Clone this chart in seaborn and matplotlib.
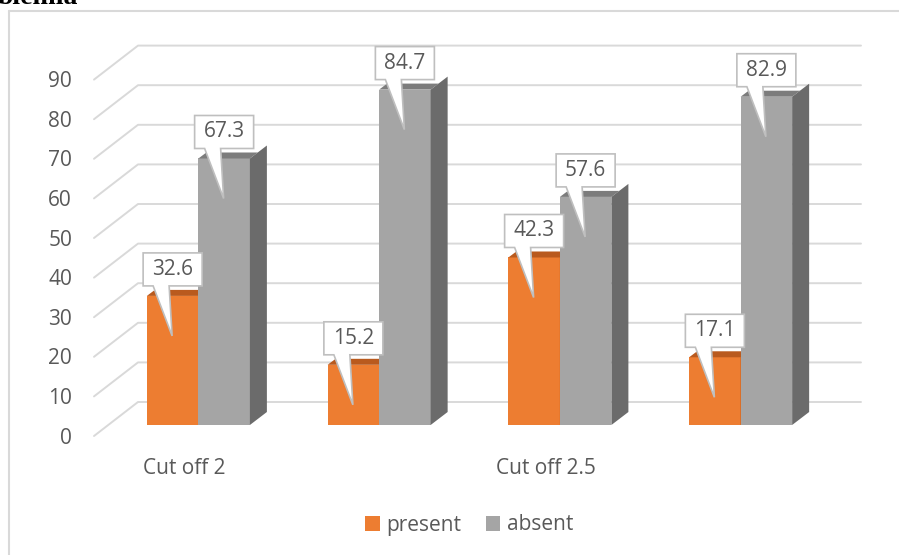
import matplotlib
import matplotlib.pyplot as plt
import pandas as pd
import seaborn as sns
from matplotlib.lines import Line2D
from matplotlib.patches import Patch, Polygon

matplotlib.use("Agg")

# ── Data ──────────────────────────────────────────────────────────────────────
groups = ["G1", "G2", "G3", "G4"]
tick_labels = ["Cut off 2", "", "Cut off 2.5", ""]
series = ["present", "absent"]
present = [32.6, 15.2, 42.3, 17.1]
absent = [67.3, 84.7, 57.6, 82.9]
y_ticks = [0, 10, 20, 30, 40, 50, 60, 70, 80, 90]

# ── Style ─────────────────────────────────────────────────────────────────────
FRONT = {"present": "#ED7D31", "absent": "#A5A5A5"}
TOP = {"present": "#B95A1E", "absent": "#7C7C7C"}
SIDE = {"present": "#B95A1E", "absent": "#6B6B6B"}
GRID = "#D9D9D9"
TEXT = "#595959"
FS = 15

sns.set_theme(style="white")
plt.rcParams["font.family"] = ["Open Sans", "DejaVu Sans"]

W, H = 899, 555
fig = plt.figure(figsize=(W / 100, H / 100), dpi=100)
# bar plane: x from px 108 to 831, value 0 at px 425 (from top), ~3.96 px per unit
ax = fig.add_axes([108 / W, 130 / H, 723 / W, 396 / H])

df = pd.DataFrame({
    "group": groups * 2,
    "value": present + absent,
    "status": ["present"] * 4 + ["absent"] * 4,
})
sns.barplot(data=df, x="group", y="value", hue="status", order=groups,
            hue_order=series, palette=FRONT, width=0.57, errorbar=None,
            saturation=1, legend=False, linewidth=0, ax=ax)

ax.set_xlim(-0.5, 3.5)
ax.set_ylim(0, 100)
ax.axis("off")

px_x = 723 / 4.0
px_y = 396 / 100.0


def ddx(p):
    return p / px_x


def ddy(p):
    return p / px_y


# floor / wall geometry (pixel shifts from bar plane)
front_dx, front_dy = -14, -11
back_dx, back_dy = 30, 23
bar_dx, bar_dy = 17, 13
lid_dx, lid_dy = 8, 6

# gridlines: front edge -> back wall -> across
for v in y_ticks:
    xs = [-0.5 + ddx(front_dx), -0.5 + ddx(back_dx), 3.5 + ddx(back_dx)]
    ys = [v + ddy(front_dy), v + ddy(back_dy), v + ddy(back_dy)]
    ax.plot(xs, ys, color=GRID, lw=1.4, zorder=0, clip_on=False)
    ax.text(-0.5 + ddx(front_dx - 22), v + ddy(front_dy - 2), str(v),
            ha="right", va="center", fontsize=FS, color=TEXT, clip_on=False)

# 3D faces for each bar
for i, name in enumerate(series):
    z = 2 + 2 * i
    for bar in ax.containers[i]:
        bar.set_zorder(z)
        x0 = bar.get_x()
        x1 = x0 + bar.get_width()
        h = bar.get_height()
        side = Polygon([(x1, 0), (x1 + ddx(bar_dx), ddy(bar_dy)),
                        (x1 + ddx(bar_dx), h + ddy(bar_dy)), (x1, h)],
                       closed=True, facecolor=SIDE[name], edgecolor="none", zorder=z)
        top = Polygon([(x0, h), (x1, h), (x1 + ddx(lid_dx), h + ddy(lid_dy)),
                       (x0 + ddx(lid_dx), h + ddy(lid_dy))],
                      closed=True, facecolor=TOP[name], edgecolor="none", zorder=z)
        ax.add_patch(side)
        ax.add_patch(top)

        # callout label
        cx = x0 + bar.get_width() / 2
        outline = [(-29.5, 10), (-19.5, 10), (-0.5, -40), (-3.5, 10), (29.5, 10),
                   (29.5, 43), (-29.5, 43)]
        pts = [(cx + ddx(a), h + ddy(b)) for a, b in outline]
        ax.add_patch(Polygon(pts, closed=True, facecolor="white", edgecolor="#BFBFBF",
                             lw=1.2, zorder=10, clip_on=False))
        ax.text(cx, h + ddy(26.5), f"{h:.1f}", ha="center", va="center",
                fontsize=FS, color=TEXT, zorder=11, clip_on=False)

# category labels on the front edge
for i, lab in enumerate(tick_labels):
    if lab:
        ax.text(i + ddx(front_dx), ddy(-43), lab, ha="center", va="center",
                fontsize=FS, color=TEXT, clip_on=False)

# legend
handles = [Patch(facecolor=FRONT[s], edgecolor="none", label=s) for s in series]
fig.legend(handles=handles, loc="center", bbox_to_anchor=(469 / W, 1 - 525 / H),
           ncol=2, frameon=False, fontsize=FS, handlelength=0.7, handleheight=0.7,
           handletextpad=0.3, columnspacing=1.2, labelcolor=TEXT)

# chart border and clipped heading from the page above
fig.add_artist(Line2D([8.5 / W, 8.5 / W], [0, 1 - 10.5 / H], color=GRID, lw=1.5))
fig.add_artist(Line2D([8.5 / W, 1], [1 - 10.5 / H, 1 - 10.5 / H], color=GRID, lw=1.5))
fig.text(-2 / W, 1 - 4 / H, "blemia", ha="left", va="baseline", fontsize=20,
         fontweight="bold", family="Liberation Serif", color="black")

fig.savefig("out.png", dpi=100, facecolor="white")
